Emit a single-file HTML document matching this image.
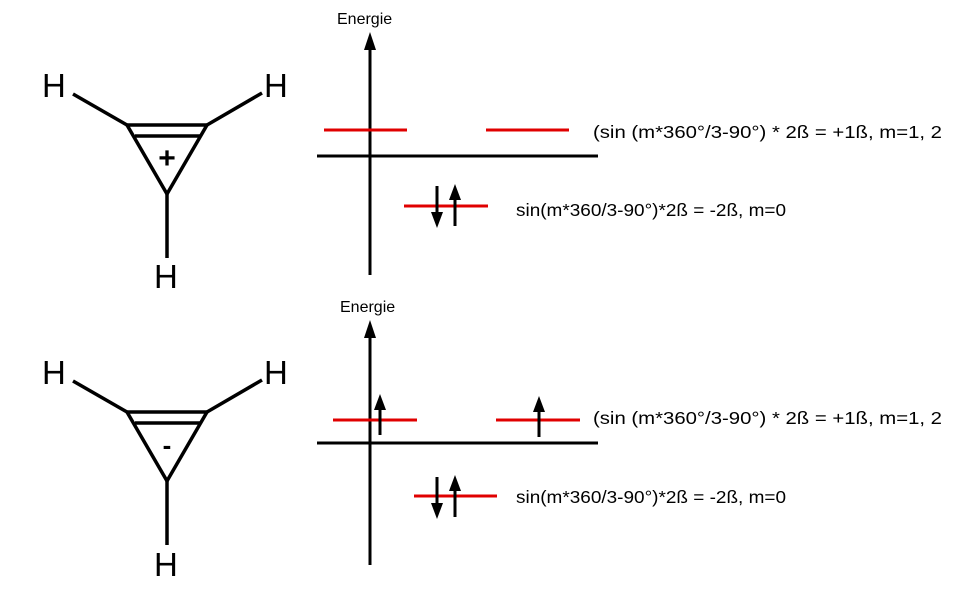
<!DOCTYPE html>
<html><head><meta charset="utf-8"><style>html,body{margin:0;padding:0;background:#fff}svg{display:block}</style></head>
<body>
<svg width="960" height="595" viewBox="0 0 960 595" xmlns="http://www.w3.org/2000/svg" font-family="Liberation Sans, Arial, sans-serif">
<defs>
<g id="mol" stroke="#000" stroke-width="3.5" fill="none">
<line x1="73" y1="94" x2="127" y2="125"/>
<line x1="262" y1="93" x2="207" y2="125"/>
<polygon points="127,125 207,125 167,194" stroke-linejoin="miter"/>
<line x1="135" y1="136" x2="201" y2="136"/>
<line x1="167" y1="194" x2="167" y2="258"/>
</g>
</defs>
<use href="#mol"/>
<g font-size="33" fill="#000">
<text x="42" y="97">H</text><text x="264" y="97">H</text><text x="154" y="288">H</text>
</g>
<text x="167" y="168" font-size="30" font-weight="bold" text-anchor="middle">+</text>
<use href="#mol" transform="translate(0,287)"/>
<g font-size="33" fill="#000">
<text x="42" y="384">H</text><text x="264" y="384">H</text><text x="154" y="576">H</text>
</g>
<text x="167" y="454" font-size="26" font-weight="bold" text-anchor="middle">-</text>

<text x="337" y="24" font-size="16">Energie</text>
<line x1="370" y1="42" x2="370" y2="275" stroke="#000" stroke-width="3"/>
<polygon points="370,32 364,50 376,50" fill="#000"/>
<line x1="317" y1="156" x2="598" y2="156" stroke="#000" stroke-width="3"/>
<g stroke="#e00000" stroke-width="3">
<line x1="324" y1="130" x2="407" y2="130"/>
<line x1="486" y1="130" x2="569" y2="130"/>
<line x1="404" y1="206" x2="488" y2="206"/>
</g>
<g stroke="#000" stroke-width="3">
<line x1="437" y1="186" x2="437" y2="216"/>
<line x1="455" y1="196" x2="455" y2="226"/>
</g>
<polygon points="437,228 431,212 443,212" fill="#000"/>
<polygon points="455,184 449,200 461,200" fill="#000"/>
<text x="593" y="138" font-size="17.5" textLength="349" lengthAdjust="spacingAndGlyphs">(sin (m*360°/3-90°) * 2ß = +1ß, m=1, 2</text>
<text x="516" y="216" font-size="17.5" textLength="270" lengthAdjust="spacingAndGlyphs">sin(m*360/3-90°)*2ß = -2ß, m=0</text>

<text x="340" y="312" font-size="16">Energie</text>
<line x1="370" y1="330" x2="370" y2="565" stroke="#000" stroke-width="3"/>
<polygon points="370,320 364,338 376,338" fill="#000"/>
<line x1="317" y1="443" x2="598" y2="443" stroke="#000" stroke-width="3"/>
<g stroke="#e00000" stroke-width="3">
<line x1="333" y1="420" x2="417" y2="420"/>
<line x1="496" y1="420" x2="580" y2="420"/>
<line x1="414" y1="496" x2="497" y2="496"/>
</g>
<g stroke="#000" stroke-width="3">
<line x1="380" y1="405" x2="380" y2="435"/>
<line x1="539" y1="407" x2="539" y2="437"/>
<line x1="437" y1="477" x2="437" y2="507"/>
<line x1="455" y1="487" x2="455" y2="517"/>
</g>
<polygon points="380,394 374,410 386,410" fill="#000"/>
<polygon points="539,396 533,412 545,412" fill="#000"/>
<polygon points="437,519 431,503 443,503" fill="#000"/>
<polygon points="455,475 449,491 461,491" fill="#000"/>
<text x="593" y="424" font-size="17.5" textLength="349" lengthAdjust="spacingAndGlyphs">(sin (m*360°/3-90°) * 2ß = +1ß, m=1, 2</text>
<text x="516" y="503" font-size="17.5" textLength="270" lengthAdjust="spacingAndGlyphs">sin(m*360/3-90°)*2ß = -2ß, m=0</text>
</svg>
</body></html>
